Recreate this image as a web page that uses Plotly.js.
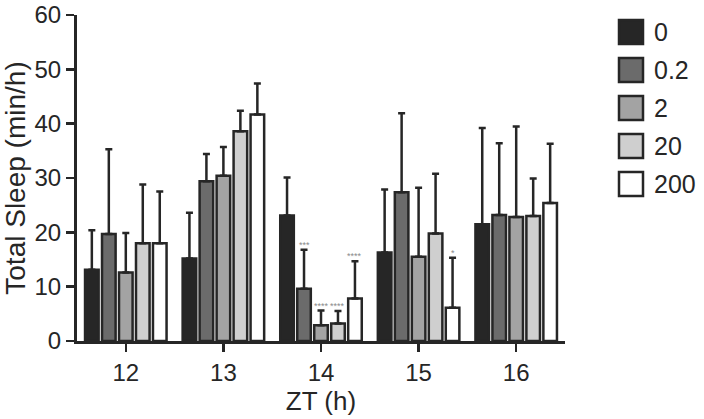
<!DOCTYPE html>
<html>
<head>
<meta charset="utf-8">
<script src="https://cdn.plot.ly/plotly-3.0.1.min.js"></script>
<style>
  body { margin: 0; background: #fff; }
  #myDiv { width: 704px; height: 419px; }
</style>
</head>
<body>
<div id="myDiv"></div>
<script>
// ZT hours on the x axis, dose groups as the bar series
const zt = ['12', '13', '14', '15', '16'];
const doses = ['0', '0.2', '2', '20', '200'];

// mean total sleep (min/h), one array per dose
const mean0 = [13.1, 15.2, 23.1, 16.3, 21.5];
const mean02 = [19.7, 29.4, 9.6, 27.4, 23.2];
const mean2 = [12.6, 30.4, 2.9, 15.5, 22.8];
const mean20 = [18.0, 38.6, 3.2, 19.8, 23.0];
const mean200 = [18.0, 41.7, 7.8, 6.1, 25.4];

// upper error (SD), one array per dose
const sd0 = [7.3, 8.4, 7.0, 11.6, 17.7];
const sd02 = [15.6, 5.0, 7.2, 14.5, 13.2];
const sd2 = [7.3, 5.3, 2.7, 12.7, 16.7];
const sd20 = [10.8, 3.8, 2.3, 11.0, 6.9];
const sd200 = [9.5, 5.7, 6.9, 9.2, 10.9];

// significance marks: [ZT, dose index, label]
const sigMarks = [
    ['14', 1, '***'],
    ['14', 2, '****'],
    ['14', 3, '****'],
    ['14', 4, '****'],
    ['15', 4, '*']
];

const means = [mean0, mean02, mean2, mean20, mean200];
const sds = [sd0, sd02, sd2, sd20, sd200];
const fills = ['#262626', '#6b6b6b', '#a3a3a3', '#cfcfcf', '#ffffff'];
const ink = '#262626';
const font = 'Liberation Sans, Arial, Helvetica, sans-serif';

const W = 704, H = 419;
const margin = {l: 77, r: 139, t: 15, b: 78};
const plotW = W - margin.l - margin.r;
const plotH = H - margin.t - margin.b;
const bargap = 0.13;
const bargroupgap = 0.2;

let data = doses.map((d, i) => ({
    type: 'bar',
    name: d,
    x: zt,
    y: means[i],
    marker: {color: fills[i], line: {color: ink, width: 2.5}},
    error_y: {
        type: 'data',
        symmetric: false,
        array: sds[i],
        arrayminus: sds[i].map(() => 0),
        color: ink,
        thickness: 2.5,
        width: 3.5
    },
    showlegend: false,
    hoverinfo: 'skip'
}));

// pixel offset of each bar inside its group
const slot = plotW / zt.length * (1 - bargap) / doses.length;

// category axes take the serial index, not the label, for annotations
let annotations = sigMarks.map(([x, di, label]) => {
    let k = zt.indexOf(x);
    return {
        x: k,
        y: means[di][k] + sds[di][k],
        xref: 'x',
        yref: 'y',
        text: label,
        showarrow: false,
        xanchor: 'center',
        yanchor: 'bottom',
        xshift: (di - (doses.length - 1) / 2) * slot,
        yshift: -2,
        font: {family: font, size: 9, color: '#8a8a8a'}
    };
});

// legend drawn by hand so the swatches can be large
const px2x = p => (p - margin.l) / plotW;
const px2y = p => (H - margin.b - p) / plotH;
let shapes = [];
doses.forEach((d, i) => {
    let cy = 32 + i * 38;
    shapes.push({
        type: 'rect', xref: 'paper', yref: 'paper',
        x0: px2x(619), x1: px2x(643),
        y0: px2y(cy + 12), y1: px2y(cy - 12),
        fillcolor: fills[i],
        line: {color: ink, width: 2.5}
    });
    annotations.push({
        xref: 'paper', yref: 'paper',
        x: px2x(652), y: px2y(cy),
        text: d, showarrow: false,
        xanchor: 'left', yanchor: 'middle',
        font: {family: font, size: 25, color: ink}
    });
});

let layout = {
    width: W,
    height: H,
    margin: margin,
    paper_bgcolor: '#fff',
    plot_bgcolor: '#fff',
    barmode: 'group',
    bargap: bargap,
    bargroupgap: bargroupgap,
    font: {family: font, color: ink},
    xaxis: {
        type: 'category',
        range: [-0.5, zt.length - 0.5],
        automargin: true,
        title: {text: 'ZT (h)', font: {size: 26, color: ink}, standoff: 2},
        tickfont: {size: 24, color: ink},
        showline: true,
        linecolor: ink,
        linewidth: 3,
        ticks: 'outside',
        ticklen: 8,
        tickwidth: 2.5,
        tickcolor: ink,
        showgrid: false,
        zeroline: false
    },
    yaxis: {
        title: {text: 'Total Sleep (min/h)', font: {size: 28, color: ink}, standoff: 6},
        tickfont: {size: 24, color: ink},
        range: [0, 60],
        dtick: 10,
        showline: true,
        linecolor: ink,
        linewidth: 3,
        ticks: 'outside',
        ticklen: 8,
        tickwidth: 2.5,
        tickcolor: ink,
        showgrid: false,
        zeroline: false
    },
    shapes: shapes,
    annotations: annotations
};

Plotly.newPlot('myDiv', data, layout, {staticPlot: true});
</script>
</body>
</html>
